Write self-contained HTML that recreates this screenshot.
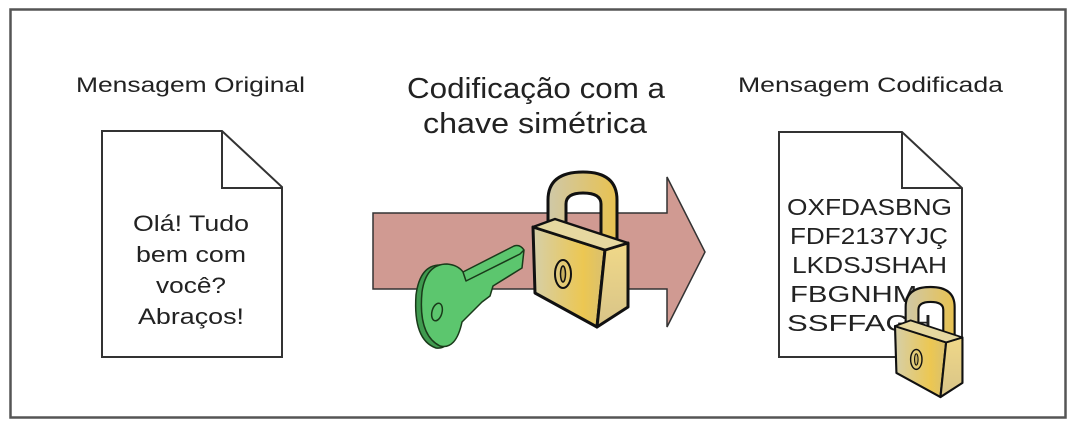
<!DOCTYPE html>
<html><head><meta charset="utf-8"><style>
html,body{margin:0;padding:0;background:#fff;}
svg{display:block;}
text{font-family:"Liberation Sans",Arial,sans-serif;fill:#222;}
</style></head><body>
<svg width="1076" height="434" viewBox="0 0 1076 434" xmlns="http://www.w3.org/2000/svg">
<defs>
<linearGradient id="g" x1="0" y1="0" x2="1" y2="0">
<stop offset="0" stop-color="#d6cfa8"/><stop offset="0.7" stop-color="#ecc752"/><stop offset="1" stop-color="#d9c070"/>
</linearGradient>
<linearGradient id="gs" x1="0" y1="0" x2="1" y2="0">
<stop offset="0" stop-color="#cfc8a8"/><stop offset="1" stop-color="#e8c250"/>
</linearGradient>
<linearGradient id="gside" x1="0" y1="0" x2="0" y2="1">
<stop offset="0" stop-color="#f0d888"/><stop offset="1" stop-color="#d8c488"/>
</linearGradient>
<g id="lock">
<path d="M15 58 L15 28 Q15 0 50 0 Q84 0 84 28 L84 74 L68 74 L68 32 Q68 21 50 21 Q33 21 33 32 L33 58 Z" fill="url(#gs)" stroke="#111" stroke-width="3" stroke-linejoin="round"/>
<path d="M0 55 L72 78 L64 155 L2 121 Z" fill="url(#g)" stroke="#111" stroke-width="3" stroke-linejoin="round"/>
<path d="M72 78 L95 71 L95 135 L64 155 Z" fill="url(#gside)" stroke="#111" stroke-width="3" stroke-linejoin="round"/>
<path d="M0 55 L22 47 L95 71 L72 78 Z" fill="#e6d8a0" stroke="#111" stroke-width="2.5" stroke-linejoin="round"/>
<ellipse cx="30" cy="102" rx="8" ry="14" fill="none" stroke="#111" stroke-width="2"/>
<ellipse cx="30" cy="102" rx="2.5" ry="8" fill="#c8b060" stroke="#111" stroke-width="1.5"/>
</g>
</defs>
<rect x="10.5" y="9.5" width="1055" height="408" fill="#fff" stroke="#555" stroke-width="2.5"/>
<text x="76" y="92" font-size="21" textLength="229" lengthAdjust="spacingAndGlyphs">Mensagem Original</text>
<text x="407" y="98" font-size="29" textLength="258" lengthAdjust="spacingAndGlyphs">Codificação com a</text>
<text x="423" y="133" font-size="29" textLength="224" lengthAdjust="spacingAndGlyphs">chave simétrica</text>
<text x="738" y="92" font-size="21" textLength="265" lengthAdjust="spacingAndGlyphs">Mensagem Codificada</text>

<path d="M102 131 L222 131 L282 187 L282 357 L102 357 Z" fill="#fff" stroke="#333" stroke-width="2"/>
<path d="M222 131 L222 188 L282 188" fill="none" stroke="#333" stroke-width="2"/>
<g font-size="22.5">
<text x="133" y="231" textLength="116" lengthAdjust="spacingAndGlyphs">Olá! Tudo</text>
<text x="136" y="262" textLength="110" lengthAdjust="spacingAndGlyphs">bem com</text>
<text x="156" y="293" textLength="70" lengthAdjust="spacingAndGlyphs">você?</text>
<text x="138" y="324" textLength="106" lengthAdjust="spacingAndGlyphs">Abraços!</text>
</g>

<path d="M373 213 L667 213 L667 177 L705 252 L667 327 L667 289 L373 289 Z" fill="#d09a92" stroke="#333" stroke-width="1.5"/>

<g stroke="#1a3a1a" stroke-width="1.5" stroke-linejoin="round">
<path d="M440 265 Q420 265 416 295 Q413 340 436 348 Q448 350 455 330 Z" fill="#3f9a4f"/>
<path d="M447 264 Q426 264 422 292 Q418 335 440 346 Q456 350 462 322 L472 312 L482 302 L490 296 L493 286 L522 268 L524 250 Q520 244 514 246 L463 272 Q458 265 447 264 Z" fill="#5cc66e"/>
<path d="M463 272 L466 281 L520 254 L524 250" fill="none"/>
<ellipse cx="437" cy="312" rx="5" ry="9" transform="rotate(15 437 312)" fill="none"/>
</g>

<use href="#lock" transform="translate(533 172)"/>

<path d="M779 132 L902 132 L962 188 L962 357 L779 357 Z" fill="#fff" stroke="#333" stroke-width="2"/>
<path d="M902 132 L902 188 L962 188" fill="none" stroke="#333" stroke-width="2"/>
<g font-size="23">
<text x="787" y="215" textLength="165" lengthAdjust="spacingAndGlyphs">OXFDASBNG</text>
<text x="790" y="244" textLength="158" lengthAdjust="spacingAndGlyphs">FDF2137YJÇ</text>
<text x="792" y="273" textLength="155" lengthAdjust="spacingAndGlyphs">LKDSJSHAH</text>
<text x="790" y="302" textLength="150" lengthAdjust="spacingAndGlyphs">FBGNHMG</text>
<text x="787" y="331" textLength="145" lengthAdjust="spacingAndGlyphs">SSFFAGH</text>
</g>
<use href="#lock" transform="translate(895 287) scale(0.71)"/>
</svg>
</body></html>
